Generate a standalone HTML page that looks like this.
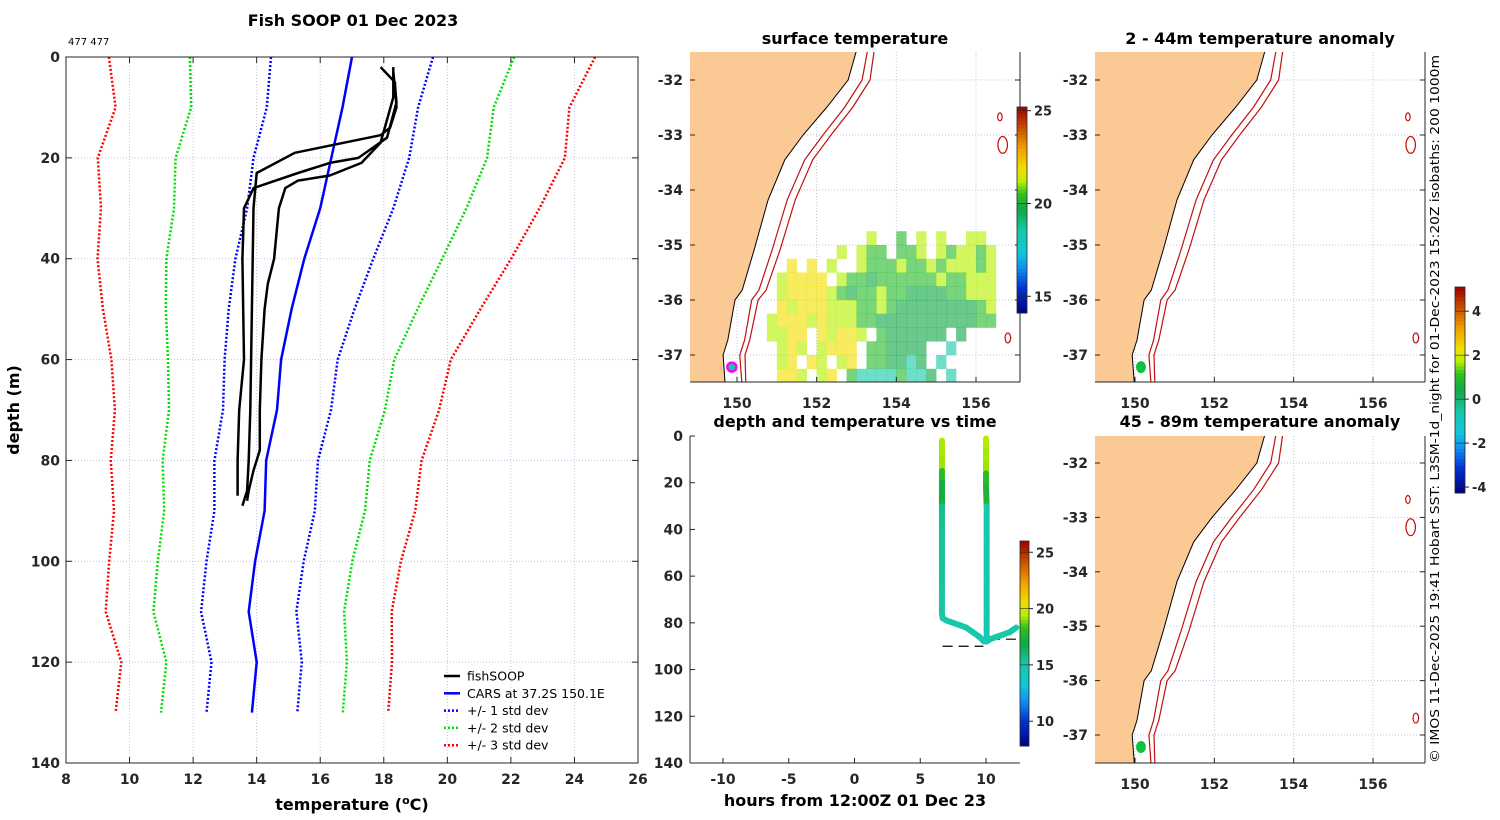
<!DOCTYPE html>
<html><head><meta charset="utf-8"><style>
html,body{margin:0;padding:0;background:#fff;}
svg{display:block;font-family:"DejaVu Sans","Liberation Sans",sans-serif;}
.tk{font-size:14px;font-weight:bold;fill:#262626;}
.ttl{font-size:16px;font-weight:bold;fill:#000;}
</style></head><body>
<svg id="fig" width="1500" height="820" viewBox="0 0 1500 820" xmlns="http://www.w3.org/2000/svg">
<defs>
<clipPath id="clipL"><rect x="690" y="52" width="330" height="330"/></clipPath>
<clipPath id="clipR1"><rect x="1095" y="52" width="330" height="330"/></clipPath>
<clipPath id="clipR2"><rect x="1095" y="436" width="330" height="327"/></clipPath>
</defs>
<text class="ttl" x="353" y="26" text-anchor="middle">Fish SOOP 01 Dec 2023</text>
<text x="68" y="45" font-size="10" fill="#000">477 477</text>
<text class="ttl" x="855" y="44" text-anchor="middle">surface temperature</text>
<text class="ttl" x="1260" y="44" text-anchor="middle">2 - 44m temperature anomaly</text>
<text class="ttl" x="855" y="427" text-anchor="middle">depth and temperature vs time</text>
<text class="ttl" x="1260" y="427" text-anchor="middle">45 - 89m temperature anomaly</text>
<text x="352" y="810" text-anchor="middle" class="ttl">temperature (<tspan font-size="11" dy="-6">o</tspan><tspan dy="6">C)</tspan></text>
<text class="ttl" transform="translate(19,410) rotate(-90)" text-anchor="middle">depth (m)</text>
<text class="ttl" x="855" y="806" text-anchor="middle">hours from 12:00Z 01 Dec 23</text>
<text transform="translate(1439,409) rotate(-90)" text-anchor="middle" font-size="12.5" fill="#000" textLength="708" lengthAdjust="spacingAndGlyphs">© IMOS 11-Dec-2025 19:41 Hobart SST: L3SM-1d_night for 01-Dec-2023 15:20Z isobaths: 200  1000m</text>
<g id="g-prof"></g>
<g id="g-maps"></g>
<g id="g-dt"></g>
<g id="g-cb"></g>
</svg>
<script>
// ---------- data ----------
const carsDepth = [0,10,20,30,40,50,60,70,80,90,100,110,120,130];
const carsMean  = [17.0,16.7,16.35,16.0,15.5,15.1,14.77,14.64,14.3,14.25,13.95,13.75,14.0,13.85];
const carsStd   = [2.55,2.38,2.45,2.3,2.17,1.98,1.78,1.7,1.63,1.58,1.53,1.5,1.42,1.43];
const prof1T = [17.9,18.35,18.4,18.2,17.9,15.2,14.0,13.9,13.85,13.8,13.75,13.7,13.55];
const prof1D = [2,5,10,14,15.5,19,23,30,50,70,80,86,89];
const prof2T = [18.3,18.4,18.1,17.2,16.3,15.3,13.9,13.6,13.55,13.6,13.45,13.4,13.4];
const prof2D = [3,9,16,20,21,23,26,30,40,60,70,80,87];
const prof3T = [18.3,18.3,17.9,17.3,16.3,15.3,14.9,14.7,14.55,14.35,14.25,14.15,14.1,14.1,13.9,13.75,13.7];
const prof3D = [2,8,17,21,23.5,24.5,26,30,40,45,50,60,70,78,82,86,88];
const profXTicks = [8,10,12,14,16,18,20,22,24,26];
const profYTicks = [0,20,40,60,80,100,120,140];
const legendLabels = ["fishSOOP","CARS at 37.2S 150.1E","+/- 1 std dev","+/- 2 std dev","+/- 3 std dev"];

const coastLon = [153.0,152.99,152.79,152.26,151.66,151.2,150.78,150.43,150.13,149.95,149.77,149.65,149.7,149.7];
const coastLat = [-31.3,-31.49,-32.0,-32.49,-33.0,-33.45,-34.18,-35.09,-35.82,-36.0,-36.73,-37.0,-37.49,-37.7];
const iso200Off  = [0.28,0.28,0.35,0.45,0.5,0.5,0.48,0.45,0.42,0.42,0.42,0.42,0.42,0.42];
const iso1000Off = [0.45,0.45,0.55,0.65,0.7,0.7,0.68,0.65,0.6,0.58,0.55,0.55,0.52,0.52];
const seamountLon = [156.6,156.67,156.8];
const seamountLat = [-32.67,-33.18,-36.69];
const seamountR = [0.08,0.17,0.1];
const fishLon = 149.87, fishLat = -37.22;
const sstCodes = {y:21.9,l:21.2,g:20.3,d:19.65,t:18.5};
const sstTopLat = -34.75, sstLon0 = 150.5, sstCell = 0.25;
const sstRows = [
"...........l..g.l.l..ll.",
"........l.lgg.ggl.lgllgl",
"...y.y.l..lggglgglglllgl",
"..lyyyy.lggdgggggglgglll",
"..lyyyylgdgglggddddgglll",
"..ylyyylllgglgddddddddgl",
".lyyylylllggddddddddddgg",
".llyy.ylyyl.gdddddd.d...",
"..lyl.lyyy.ggdddd..t....",
"..ly.yl.ly.ggddtd.t.....",
"..yyl.ly.gttttgttd.t...."];
const lonTicks = [150,152,154,156];
const latTicks = [-32,-33,-34,-35,-36,-37];

const cast1T = [6.65,6.65,6.65,6.65,6.65,6.65,6.65,6.65,6.65,6.65,6.7,7.0,7.5,8.0,8.5,9.0,9.5,9.85];
const cast1D = [2,6,10,15,20,30,40,55,65,76,78,79,80,81,82,84,86,88];
const cast1V = [19.3,19.3,19.2,18.0,17.2,15.6,15.4,15.3,15.2,15.1,15.1,15.1,15.1,15.0,15.0,14.9,14.9,14.8];
const cast2T = [10.0,10.0,10.0,10.0,10.0,10.05,10.05,10.05,10.05,10.05,10.3,10.8,11.3,11.8,12.3];
const cast2D = [1,6,12,16,22,30,45,60,75,88,87,86,85,84,82];
const cast2V = [19.4,19.3,19.2,18.1,17.6,15.0,14.9,14.8,14.7,14.6,15.0,15.0,15.1,15.1,15.2];
const dtXTicks = [-10,-5,0,5,10];
const dtYTicks = [0,20,40,60,80,100,120,140];
const bottomDepth = [90,87];
const bottomT0 = [6.7,10.3];
const bottomT1 = [9.8,12.9];

const sstBarTicks = [15,20,25];
const dtBarTicks = [10,15,20,25];
const anomBarTicks = [-4,-2,0,2,4];

// ---------- helpers ----------
const NS="http://www.w3.org/2000/svg";
function mk(tag,attrs,parent){const e=document.createElementNS(NS,tag);for(const k in attrs)e.setAttribute(k,attrs[k]);parent.appendChild(e);return e;}
function lin(d0,d1,r0,r1){return v=>r0+(v-d0)*(r1-r0)/(d1-d0);}
const cmapStops=[[0,"#000080"],[0.12,"#0030d0"],[0.22,"#1090f0"],[0.3,"#10c8d8"],[0.4,"#18c8a8"],[0.5,"#10a848"],[0.58,"#30c020"],[0.64,"#b8f000"],[0.7,"#f0e000"],[0.8,"#f0a000"],[0.9,"#c85000"],[1,"#a00000"]];
function hex(h){return [parseInt(h.slice(1,3),16),parseInt(h.slice(3,5),16),parseInt(h.slice(5,7),16)];}
function cmap(f){f=Math.max(0,Math.min(1,f));for(let i=1;i<cmapStops.length;i++){if(f<=cmapStops[i][0]){const a=cmapStops[i-1],b=cmapStops[i];const t=(f-a[0])/(b[0]-a[0]);const ca=hex(a[1]),cb=hex(b[1]);return "rgb("+ca.map((c,j)=>Math.round(c+(cb[j]-c)*t)).join(",")+")";}}return cmapStops[cmapStops.length-1][1];}

// ---------- profile plot ----------
const gp=document.getElementById('g-prof');
const PX=lin(8,26,66,638), PY=lin(0,140,57,763);
profXTicks.forEach(t=>{const l=mk('line',{x1:PX(t),x2:PX(t),y1:57,y2:763,stroke:"#c0c4e4","stroke-width":1,"stroke-dasharray":"1,2"},gp);});
profYTicks.forEach(t=>{const l=mk('line',{x1:66,x2:638,y1:PY(t),y2:PY(t),stroke:"#c0c4e4","stroke-width":1,"stroke-dasharray":"1,2"},gp);});
function pline(T,D,color,w,dash,name){const pts=T.map((t,i)=>PX(t).toFixed(1)+","+PY(D[i]).toFixed(1)).join(" ");const p=mk('polyline',{points:pts,fill:"none",stroke:color,"stroke-width":w,"stroke-linejoin":"round"},gp);if(dash)p.setAttribute('stroke-dasharray',dash);}
const stdColors=["#0000ff","#00dd00","#ff0000"];
[1,2,3].forEach((k,ki)=>{
  pline(carsMean.map((m,i)=>m+k*carsStd[i]),carsDepth,stdColors[ki],2.5,"2,2","plus-"+k+"-std-line");
  pline(carsMean.map((m,i)=>m-k*carsStd[i]),carsDepth,stdColors[ki],2.5,"2,2","minus-"+k+"-std-line");
});
pline(carsMean,carsDepth,"#0000ff",2.5,null,"cars-mean-line");
pline(prof1T,prof1D,"#000",2.5,null,"fishsoop-profile-1");
pline(prof2T,prof2D,"#000",2.5,null,"fishsoop-profile-2");
pline(prof3T,prof3D,"#000",2.5,null,"fishsoop-profile-3");
{const r=mk('rect',{x:66,y:57,width:572,height:706,fill:"none",stroke:"#262626","stroke-width":1},gp);}
profXTicks.forEach(t=>{mk('line',{x1:PX(t),x2:PX(t),y1:763,y2:757,stroke:"#262626"},gp);mk('line',{x1:PX(t),x2:PX(t),y1:57,y2:63,stroke:"#262626"},gp);
  const tx=mk('text',{x:PX(t),y:784,"text-anchor":"middle",class:"tk"},gp);tx.textContent=t;});
profYTicks.forEach(t=>{mk('line',{x1:66,x2:72,y1:PY(t),y2:PY(t),stroke:"#262626"},gp);mk('line',{x1:632,x2:638,y1:PY(t),y2:PY(t),stroke:"#262626"},gp);
  const tx=mk('text',{x:60,y:PY(t)+5,"text-anchor":"end",class:"tk"},gp);tx.textContent=t;});
const legColors=["#000","#0000ff","#0000ff","#00dd00","#ff0000"];
legendLabels.forEach((lab,i)=>{const y=676+i*17.3;
  const l=mk('line',{x1:444,x2:460,y1:y,y2:y,stroke:legColors[i],"stroke-width":2.5},gp);if(i>=2)l.setAttribute('stroke-dasharray','2,2');
  
  const t=mk('text',{x:467,y:y+4.5,"font-size":"12.5",fill:"#000"},gp);t.textContent=lab;});

// ---------- maps ----------
const gm=document.getElementById('g-maps');
function drawMap(cfg){
  const g=mk('g',{},gm);
  const X=v=>cfg.tx(v+cfg.shift), Y=cfg.ty;
  const inner=mk('g',{"clip-path":"url(#"+cfg.clip+")"},g);
  lonTicks.forEach(t=>mk('line',{x1:cfg.tx(t),x2:cfg.tx(t),y1:cfg.y0,y2:cfg.y1,stroke:"#c0c4e4","stroke-dasharray":"1,2"},inner));
  latTicks.forEach(t=>mk('line',{x1:cfg.x0,x2:cfg.x1,y1:Y(t),y2:Y(t),stroke:"#c0c4e4","stroke-dasharray":"1,2"},inner));
  if(cfg.sst){sstRows.forEach((row,r)=>{for(let c=0;c<row.length;c++){const ch=row[c];if(!(ch in sstCodes))continue;
    const lon=sstLon0+c*sstCell, lat=sstTopLat-r*sstCell;
    const x0=X(lon),x1=X(lon+sstCell),y0=Y(lat),y1=Y(lat-sstCell);
    const rc=mk('rect',{x:x0,y:y0,width:x1-x0+0.3,height:y1-y0+0.3,fill:cmap((sstCodes[ch]-14.1)/(25.2-14.1)),"fill-opacity":0.62},inner);
    }});}
  let d="M"+(cfg.x0-5)+","+(cfg.y0-5);
  coastLon.forEach((lo,i)=>{d+=" L"+X(lo).toFixed(1)+","+Y(coastLat[i]).toFixed(1);});
  d+=" L"+(cfg.x0-5)+","+(cfg.y1+5)+" Z";
  const land=mk('path',{d:d,fill:"#fac994",stroke:"#000","stroke-width":1},inner);
  [iso200Off,iso1000Off].forEach((off,k)=>{const pts=coastLon.map((lo,i)=>X(lo+off[i]).toFixed(1)+","+Y(coastLat[i]).toFixed(1)).join(" ");
    const p=mk('polyline',{points:pts,fill:"none",stroke:"#c01010","stroke-width":1.2},inner);});
  seamountLon.forEach((lo,i)=>{const e=mk('ellipse',{cx:X(lo),cy:Y(seamountLat[i]),rx:cfg.txScale*seamountR[i]*0.7,ry:55*seamountR[i]*0.9,fill:"none",stroke:"#c01010","stroke-width":1.2},inner);});
  if(cfg.fish==="ring"){const c=mk('circle',{cx:X(fishLon),cy:Y(fishLat),r:4.5,fill:"#18c8a0",stroke:"#ff00ff","stroke-width":2.5},inner);}
  else {const c=mk('ellipse',{cx:X(fishLon),cy:Y(fishLat),rx:5,ry:6,fill:"#10c040"},inner);}
  mk('line',{x1:cfg.x0,x2:cfg.x1,y1:cfg.y1,y2:cfg.y1,stroke:"#262626"},g);
  mk('line',{x1:cfg.x1,x2:cfg.x1,y1:cfg.y0,y2:cfg.y1,stroke:"#262626"},g);
  lonTicks.forEach(t=>{mk('line',{x1:cfg.tx(t),x2:cfg.tx(t),y1:cfg.y1,y2:cfg.y1-5,stroke:"#262626"},g);
    const tx=mk('text',{x:cfg.tx(t),y:cfg.y1+26,"text-anchor":"middle",class:"tk"},g);tx.textContent=t;});
  latTicks.forEach(t=>{mk('line',{x1:cfg.x0,x2:cfg.x0+5,y1:Y(t),y2:Y(t),stroke:"#262626"},g);mk('line',{x1:cfg.x1,x2:cfg.x1-5,y1:Y(t),y2:Y(t),stroke:"#262626"},g);
    const tx=mk('text',{x:cfg.x0-7,y:Y(t)+5,"text-anchor":"end",class:"tk"},g);tx.textContent=t;});
}
drawMap({name:"sst-map",x0:690,x1:1020,y0:52,y1:382,tx:lin(150,156,737,976),txScale:39.8,shift:0,ty:lin(-32,-37,80,355),clip:"clipL",sst:true,fish:"ring"});
drawMap({name:"anomaly-map-2-44m",x0:1095,x1:1425,y0:52,y1:382,tx:lin(150,156,1135,1373),txScale:39.7,shift:0.28,ty:lin(-32,-37,80,355),clip:"clipR1",sst:false,fish:"dot"});
drawMap({name:"anomaly-map-45-89m",x0:1095,x1:1425,y0:436,y1:763,tx:lin(150,156,1135,1373),txScale:39.7,shift:0.28,ty:lin(-32,-37,463,735),clip:"clipR2",sst:false,fish:"dot"});

// ---------- depth-time ----------
const gd=document.getElementById('g-dt');
const DX=lin(-10,10,723,986), DY=lin(0,140,436,763);
bottomDepth.forEach((b,i)=>{const l=mk('line',{x1:DX(bottomT0[i]),x2:DX(bottomT1[i]),y1:DY(b),y2:DY(b),stroke:"#000","stroke-width":1.2,"stroke-dasharray":"10,6"},gd);});
function cast(T,D,V,name){for(let i=0;i<T.length-1;i++){const s=mk('line',{x1:DX(T[i]),y1:DY(D[i]),x2:DX(T[i+1]),y2:DY(D[i+1]),stroke:cmap((V[i]-7.8)/(26-7.8)),"stroke-width":6,"stroke-linecap":"round"},gd);}}
cast(cast1T,cast1D,cast1V,"cast-1");
cast(cast2T,cast2D,cast2V,"cast-2");
mk('line',{x1:690,x2:1020,y1:763,y2:763,stroke:"#262626"},gd);
mk('line',{x1:690,x2:690,y1:436,y2:763,stroke:"#262626"},gd);
dtXTicks.forEach(t=>{mk('line',{x1:DX(t),x2:DX(t),y1:763,y2:758,stroke:"#262626"},gd);const tx=mk('text',{x:DX(t),y:784,"text-anchor":"middle",class:"tk"},gd);tx.textContent=t;});
dtYTicks.forEach(t=>{mk('line',{x1:690,x2:695,y1:DY(t),y2:DY(t),stroke:"#262626"},gd);const tx=mk('text',{x:683,y:DY(t)+5,"text-anchor":"end",class:"tk"},gd);tx.textContent=t;});

// ---------- colorbars ----------
const gc=document.getElementById('g-cb');
function cbar(x,y0,y1,w,vmin,vmax,ticks,name){
  const g=mk('g',{},gc);
  const n=60,h=(y1-y0)/n;
  for(let i=0;i<n;i++){mk('rect',{x:x,y:y1-(i+1)*h,width:w,height:h+0.5,fill:cmap((i+0.5)/n)},g);}
  mk('rect',{x:x,y:y0,width:w,height:y1-y0,fill:"none",stroke:"#262626","stroke-width":0.8},g);
  const Y=lin(vmin,vmax,y1,y0);
  ticks.forEach(t=>{mk('line',{x1:x+w,x2:x+w+4,y1:Y(t),y2:Y(t),stroke:"#262626"},g);mk('line',{x1:x,x2:x+w,y1:Y(t),y2:Y(t),stroke:"#262626","stroke-width":0.6},g);
    const tx=mk('text',{x:x+w+7,y:Y(t)+5,"font-size":"13","font-weight":"bold",fill:"#262626"},g);tx.textContent=t;});
}
cbar(1017,107,313,10,14.1,25.2,sstBarTicks,"sst-colorbar");
cbar(1020,541,746,9,7.8,26,dtBarTicks,"depth-time-colorbar");
cbar(1455,287,493,10,-4.27,5.1,anomBarTicks,"anomaly-colorbar");
</script>
</body></html>
